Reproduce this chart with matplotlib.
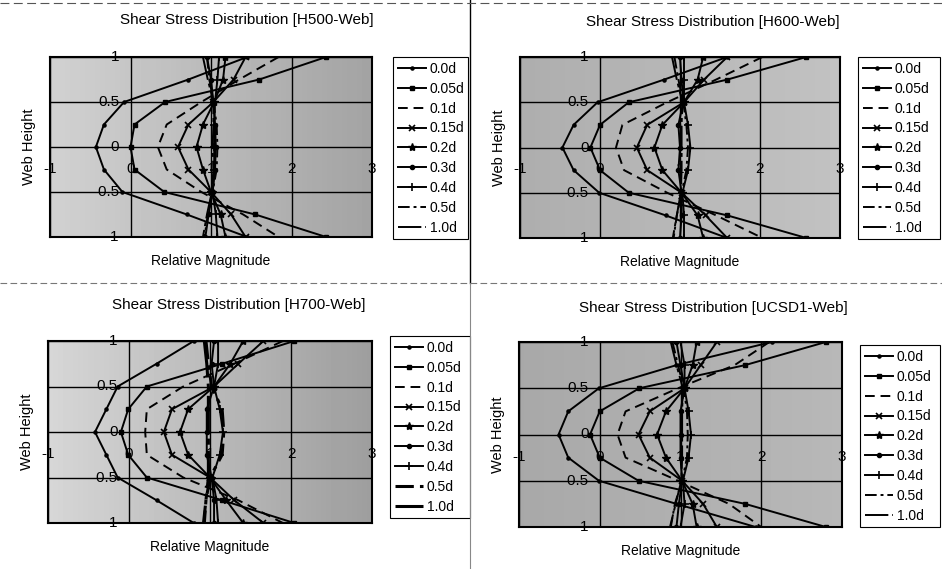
import matplotlib
matplotlib.use("Agg")
import matplotlib.pyplot as plt
import numpy as np

plt.rcParams['font.family'] = ['Liberation Sans', 'DejaVu Sans']

# web height stations (same for every panel)
web_height = [1, 0.75, 0.5, 0.25, 0, -0.25, -0.5, -0.75, -1]
series_labels = ['0.0d', '0.05d', '0.1d', '0.15d', '0.2d', '0.3d', '0.4d', '0.5d', '1.0d']

# H500-Web
h500_00 = [1.45, 0.72, -0.08, -0.33, -0.43, -0.33, -0.10, 0.70, 1.45]
h500_05 = [2.43, 1.60, 0.43, 0.05, 0.00, 0.05, 0.42, 1.55, 2.43]
h500_10 = [1.84, 1.35, 0.88, 0.45, 0.34, 0.45, 0.88, 1.40, 1.84]
h500_15 = [1.43, 1.28, 1.03, 0.72, 0.59, 0.72, 1.00, 1.25, 1.43]
h500_20 = [1.18, 1.15, 1.04, 0.90, 0.82, 0.90, 1.00, 1.12, 1.18]
h500_30 = [0.95, 1.00, 1.03, 1.05, 1.06, 1.05, 1.02, 0.97, 0.93]
h500_40 = [1.10, 1.08, 1.05, 1.04, 1.04, 1.04, 1.02, 1.06, 1.08]
h500_50 = [0.95, 0.98, 1.03, 1.07, 1.08, 1.07, 1.02, 0.96, 0.92]
h500_100 = [0.90, 0.96, 1.03, 1.03, 1.02, 1.03, 1.01, 0.95, 0.90]

# H600-Web
h600_00 = [1.59, 0.80, -0.03, -0.33, -0.47, -0.33, -0.01, 0.82, 1.59]
h600_05 = [2.58, 1.59, 0.36, 0.00, -0.12, 0.00, 0.36, 1.59, 2.58]
h600_10 = [2.03, 1.45, 0.84, 0.28, 0.20, 0.30, 0.84, 1.45, 2.03]
h600_15 = [1.59, 1.30, 1.05, 0.59, 0.46, 0.59, 1.02, 1.32, 1.59]
h600_20 = [1.29, 1.22, 1.05, 0.78, 0.68, 0.78, 1.02, 1.22, 1.29]
h600_30 = [1.00, 1.02, 1.04, 0.98, 1.00, 0.98, 1.02, 1.02, 1.00]
h600_40 = [1.05, 1.05, 1.05, 1.10, 1.13, 1.10, 1.03, 1.05, 1.05]
h600_50 = [0.93, 0.98, 1.04, 1.08, 1.10, 1.08, 1.02, 0.96, 0.92]
h600_100 = [0.90, 0.96, 1.03, 1.02, 1.02, 1.02, 1.01, 0.96, 0.91]

# H700-Web
h700_00 = [0.80, 0.34, -0.14, -0.28, -0.42, -0.28, -0.14, 0.34, 0.80]
h700_05 = [2.04, 1.15, 0.22, -0.01, -0.10, -0.01, 0.22, 1.15, 2.04]
h700_10 = [1.90, 1.30, 0.67, 0.22, 0.20, 0.22, 0.67, 1.35, 1.90]
h700_15 = [1.66, 1.35, 1.05, 0.53, 0.43, 0.53, 1.00, 1.30, 1.66]
h700_20 = [1.41, 1.25, 1.05, 0.73, 0.63, 0.73, 1.00, 1.20, 1.41]
h700_30 = [1.05, 1.02, 1.05, 0.96, 0.96, 0.96, 1.02, 1.05, 1.05]
h700_40 = [1.10, 1.10, 1.05, 1.12, 1.16, 1.12, 1.03, 1.08, 1.10]
h700_50 = [0.95, 0.98, 1.02, 1.15, 1.17, 1.15, 1.00, 0.95, 0.93]
h700_100 = [0.93, 0.96, 0.98, 0.98, 0.98, 0.98, 0.98, 0.95, 0.92]

# UCSD1-Web
ucsd_00 = [2.13, 0.95, -0.01, -0.39, -0.51, -0.39, -0.01, 0.95, 1.93]
ucsd_05 = [2.80, 1.80, 0.49, 0.00, -0.12, 0.00, 0.48, 1.80, 2.80]
ucsd_10 = [2.10, 1.67, 0.97, 0.32, 0.22, 0.32, 0.97, 1.60, 2.00]
ucsd_15 = [1.45, 1.25, 1.05, 0.62, 0.48, 0.62, 1.02, 1.28, 1.45]
ucsd_20 = [1.20, 1.15, 1.05, 0.82, 0.71, 0.82, 1.02, 1.15, 1.20]
ucsd_30 = [0.95, 1.00, 1.05, 1.00, 1.00, 1.00, 1.02, 0.98, 0.95]
ucsd_40 = [1.00, 1.05, 1.05, 1.10, 1.13, 1.10, 1.03, 1.05, 1.00]
ucsd_50 = [0.90, 0.97, 1.04, 1.08, 1.09, 1.08, 1.02, 0.93, 0.88]
ucsd_100 = [0.88, 0.95, 1.03, 1.02, 1.02, 1.02, 1.01, 0.94, 0.87]

panels = [
    ('Shear Stress Distribution [H500-Web]',
     [h500_00, h500_05, h500_10, h500_15, h500_20, h500_30, h500_40, h500_50, h500_100]),
    ('Shear Stress Distribution [H600-Web]',
     [h600_00, h600_05, h600_10, h600_15, h600_20, h600_30, h600_40, h600_50, h600_100]),
    ('Shear Stress Distribution [H700-Web]',
     [h700_00, h700_05, h700_10, h700_15, h700_20, h700_30, h700_40, h700_50, h700_100]),
    ('Shear Stress Distribution [UCSD1-Web]',
     [ucsd_00, ucsd_05, ucsd_10, ucsd_15, ucsd_20, ucsd_30, ucsd_40, ucsd_50, ucsd_100]),
]

styles = [
    dict(ls='-', marker='.', ms=4.5),
    dict(ls='-', marker='s', ms=3.5),
    dict(ls=(0, (5, 3)), marker=None),
    dict(ls='-', marker='x', ms=5, mew=1.2),
    dict(ls='-', marker='*', ms=6),
    dict(ls='-', marker='o', ms=3),
    dict(ls='-', marker='+', ms=5.5, mew=1.2),
    dict(ls=(0, (6, 2, 1.5, 2)), marker=None),
    dict(ls=(0, (12, 2, 2, 2)), marker=None),
]

W, H = 942, 569
fig = plt.figure(figsize=(W / 100, H / 100), dpi=100)


def fx(px):
    return px / W


def fy(py):
    return 1 - py / H


# pixel boxes: axes (l, t, r, b), legend (l, t, r), title (x, y), background grey (left, right)
layout = [
    ((50, 57, 372, 237), (393, 57, 468), (247, 20), (0.82, 0.64)),
    ((520, 57, 840, 238), (858, 57, 940), (713, 22), (0.68, 0.76)),
    ((48, 341, 372, 523), (390, 336, 470), (239, 305), (0.84, 0.62)),
    ((519, 342, 842, 527), (860, 345, 940), (713, 308), (0.66, 0.72)),
]

for (title, series), (abox, lbox, tpos, grey) in zip(panels, layout):
    l, t, r, b = abox
    ax = fig.add_axes([fx(l), fy(b), fx(r - l), (b - t) / H])
    ax.imshow(np.linspace(grey[0], grey[1], 64).reshape(1, -1), cmap='gray',
              vmin=0, vmax=1, extent=(-1, 3, -1, 1), aspect='auto', zorder=0)
    thick = 'H700' in title
    handles = []
    for vals, st, lab in zip(series, styles, series_labels):
        lw = 1.4
        if thick and lab in ('0.5d', '1.0d'):
            lw = 2.2
        h, = ax.plot(vals, web_height, color='black', lw=lw, label=lab,
                     markerfacecolor='black', markeredgecolor='black', **st)
        handles.append(h)
    ax.set_xlim(-1, 3)
    ax.set_ylim(-1, 1)
    ax.set_xticks([-1, 0, 1, 2, 3])
    ax.set_yticks([-1, -0.5, 0, 0.5, 1])
    ax.tick_params(length=0, labelbottom=False, labelleft=False)
    ax.grid(color='black', lw=1)
    for s in ax.spines.values():
        s.set_linewidth(1.5)
    # tick labels sit inside the plot, at the axis crossing
    for yv in [1, 0.5, 0, -0.5, -1]:
        ax.text(-0.14, yv, f'{yv:g}', ha='right', va='center', fontsize=11, zorder=3)
    for xv in [-1, 0, 1, 2, 3]:
        ax.text(xv, -0.24, f'{xv:g}', ha='center', va='center', fontsize=11, zorder=3)
    ax.set_xlabel('Relative Magnitude', fontsize=10, labelpad=12)
    ax.set_ylabel('Web Height', fontsize=10.5, labelpad=10)
    fig.text(fx(tpos[0]), fy(tpos[1]), title, ha='center', va='center', fontsize=11)
    ll, lt, lr = lbox
    ax.legend(handles=handles, loc='upper left', bbox_to_anchor=(fx(ll), fy(lt), fx(lr - ll), 0),
              bbox_transform=fig.transFigure, mode='expand', borderaxespad=0,
              fontsize=10, handlelength=2.0, handletextpad=0.3, labelspacing=0.42,
              borderpad=0.35, frameon=True, fancybox=False, edgecolor='black',
              framealpha=1)
    ax.get_legend().get_frame().set_linewidth(0.8)

# page separators from the scanned sheet
fig.add_artist(plt.Line2D([fx(470), fx(470)], [fy(0), fy(283)], transform=fig.transFigure,
                          color='black', lw=1))
fig.add_artist(plt.Line2D([fx(470), fx(470)], [fy(283), fy(569)], transform=fig.transFigure,
                          color='#888888', lw=0.8))
fig.add_artist(plt.Line2D([0, 1], [fy(283), fy(283)], transform=fig.transFigure,
                          color='#777777', lw=0.8, ls=(0, (6, 3))))
fig.add_artist(plt.Line2D([0, 1], [fy(3), fy(3)], transform=fig.transFigure,
                          color='#555555', lw=0.8, ls=(0, (8, 4))))

fig.savefig('out.png', dpi=100)
